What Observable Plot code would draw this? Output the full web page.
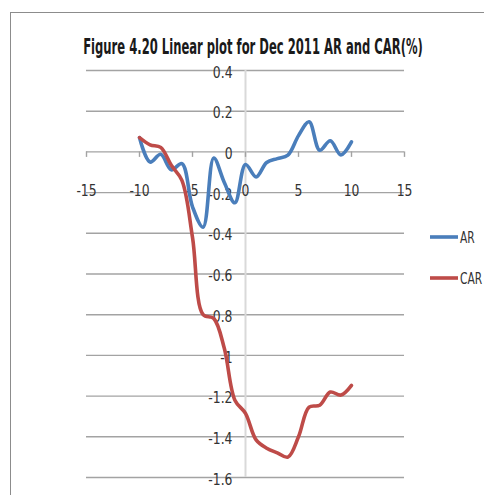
<!DOCTYPE html>
<html><head><meta charset="utf-8">
<script src="https://cdn.jsdelivr.net/npm/d3@7"></script>
<script src="https://cdn.jsdelivr.net/npm/@observablehq/plot@0.6"></script>
<style>
body{margin:0;background:#fff;}
#wrap{position:relative;width:484px;height:495px;overflow:hidden;background:#fff;}
#frame{position:absolute;left:10px;top:12px;width:520px;height:520px;border-top:1.5px solid #8c8c8c;border-left:1.5px solid #8c8c8c;pointer-events:none;}
#wrap svg{position:absolute;left:0;top:0;}
</style></head><body><div id="wrap"><div id="frame"></div></div>
<script>
const days = [-10,-9,-8,-7,-6,-5,-4,-3,-2,-1,0,1,2,3,4,5,6,7,8,9,10];
const ar  = [0.07,-0.05,-0.012,-0.088,-0.058,-0.27,-0.37,-0.03,-0.15,-0.25,-0.062,-0.123,-0.052,-0.033,-0.016,0.08,0.148,0.008,0.055,-0.015,0.049];
const car = [0.07,0.035,0.022,-0.066,-0.14,-0.42,-0.80,-0.818,-0.965,-1.22,-1.285,-1.415,-1.456,-1.479,-1.50,-1.40,-1.254,-1.245,-1.18,-1.195,-1.147];
const seriesNames = ["AR","CAR"];
const seriesColors = ["#4a7ebb","#be4b48"];
const xTicks = [-15,-10,-5,0,5,10,15];
const xTickLabels = ["-15","-10","-5","0","5","10","15"];
const yTicks = [0.4,0.2,0,-0.2,-0.4,-0.6,-0.8,-1,-1.2,-1.4,-1.6];
const yTickLabels = ["0.4","0.2","0","-0.2","-0.4","-0.6","-0.8","-1","-1.2","-1.4","-1.6"];
const titleText = "Figure 4.20 Linear plot for Dec 2011 AR and CAR(%)";

const FONT = "'Liberation Sans Narrow','DejaVu Sans Condensed','Liberation Sans',sans-serif";

const rows = [
  ...days.map((d,i)=>({day:d, value:ar[i], series:seriesNames[0]})),
  ...days.map((d,i)=>({day:d, value:car[i], series:seriesNames[1]}))
];
const yTickRows = yTicks.map((v,i)=>({v, label:yTickLabels[i]}));
const xTickRows = xTicks.map((v,i)=>({v, label:xTickLabels[i]}));

const chart = Plot.plot({
  width:484, height:495,
  marginLeft:86, marginRight:80, marginTop:70, marginBottom:18,
  x:{domain:[-15,15], axis:null},
  y:{domain:[-1.6,0.4], axis:null},
  color:{domain:seriesNames, range:seriesColors},
  style:{background:"transparent", fontFamily:FONT, overflow:"visible"},
  marks:[
    Plot.ruleY(yTicks, {y:d=>d, stroke:"#a3a3a3", strokeWidth:1.4}),
    Plot.ruleX([0], {x:d=>d, stroke:"#d9d9d9", strokeWidth:2}),
    Plot.ruleX(xTicks, {x:d=>d, y1:0, y2:-0.027, stroke:"#a3a3a3", strokeWidth:1.4}),
    Plot.text(yTickRows, {x:0, y:"v", text:"label", textAnchor:"end", dx:-13, dy:2, fontSize:16, fill:"#333"}),
    Plot.text(xTickRows, {x:"v", y:0, text:"label", dy:39, fontSize:16, fill:"#333"}),
    Plot.line(rows, {x:"day", y:"value", stroke:"series", z:"series", strokeWidth:3.6, curve:"catmull-rom"})
  ]
});

// condense tick labels horizontally (chart text is narrow)
chart.querySelectorAll("text").forEach(t=>{
  const tr = t.getAttribute("transform") || "";
  t.setAttribute("transform", tr + " scale(0.86,1)");
});

document.getElementById("wrap").appendChild(chart);
const svg = d3.select(chart);

const title = svg.append("text")
  .attr("text-anchor","middle")
  .attr("font-family", FONT).attr("font-weight","bold").attr("font-size", 21)
  .attr("fill","#1a1a1a")
  .text(titleText);
const natural = title.node().getComputedTextLength() || 340;
title.attr("transform", `translate(253,54) scale(${340/natural},1)`);

const legY = [237, 278];
seriesNames.forEach((name,i)=>{
  svg.append("line").attr("x1",430).attr("x2",458).attr("y1",legY[i]).attr("y2",legY[i])
    .attr("stroke", seriesColors[i]).attr("stroke-width",3.6);
  svg.append("text").attr("transform",`translate(460,${legY[i]}) scale(0.74,1)`)
    .attr("text-anchor","start")
    .attr("dy","0.36em").attr("font-family",FONT).attr("font-size",16).attr("fill","#333")
    .text(name);
});
</script></body></html>
